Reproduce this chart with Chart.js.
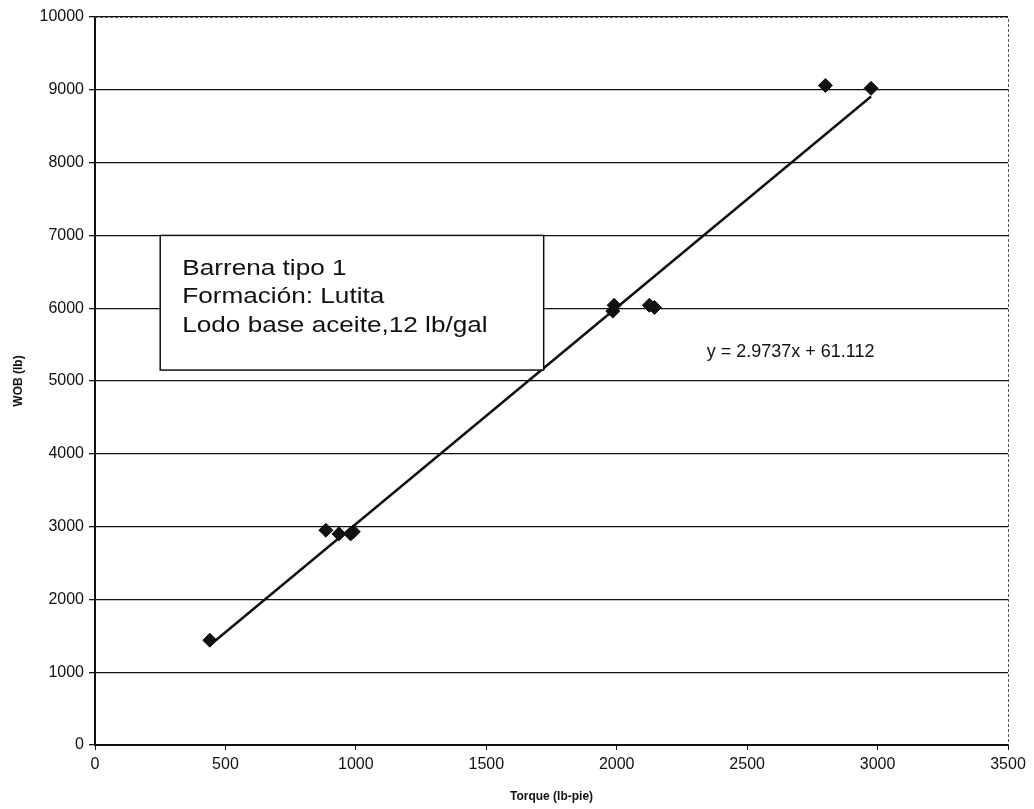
<!DOCTYPE html>
<html>
<head>
<meta charset="utf-8">
<script src="https://cdn.jsdelivr.net/npm/chart.js@4.4.1/dist/chart.umd.min.js"></script>
<style>
  html, body { margin: 0; padding: 0; background: #ffffff; }
  #wrap { width: 1034px; height: 809px; }
</style>
</head>
<body>
<div id="wrap"><canvas id="c" width="1034" height="809"></canvas></div>
<script>
// Measured torque (lb-pie) and weight on bit (lb)
const torque = [440, 885, 935, 980, 990, 1985, 1990, 2125, 2145, 2800, 2975];
const wob    = [1440, 2950, 2900, 2900, 2930, 5960, 6040, 6040, 6010, 9060, 9020];

// Linear fit reported on the chart: y = slope * x + intercept
const slope = 2.9737;
const intercept = 61.112;
const fitLabel = 'y = 2.9737x + 61.112';

// Note box text
const noteLines = ['Barrena tipo 1', 'Formación: Lutita', 'Lodo base aceite,12 lb/gal'];

const xTicks = [0, 500, 1000, 1500, 2000, 2500, 3000, 3500];
const yTicks = [0, 1000, 2000, 3000, 4000, 5000, 6000, 7000, 8000, 9000, 10000];

const points = torque.map((t, i) => ({ x: t, y: wob[i] }));
const xMin = Math.min(...torque), xMax = Math.max(...torque);
const fitPoints = [xMin, xMax].map(x => ({ x: x, y: slope * x + intercept }));

const FONT = '"Liberation Sans", Arial, sans-serif';

// Frame (dashed top/right edges), note box and fit equation
const annotations = {
  id: 'annotations',
  afterDatasetsDraw(chart) {
    const { ctx, chartArea: a, scales: { x, y } } = chart;
    ctx.save();
    // dotted top and right edge of plot
    ctx.strokeStyle = '#555';
    ctx.lineWidth = 1;
    ctx.setLineDash([3, 2]);
    ctx.beginPath();
    ctx.moveTo(a.left, a.top + 0.5);
    ctx.lineTo(a.right + 0.5, a.top + 0.5);
    ctx.lineTo(a.right + 0.5, a.bottom);
    ctx.stroke();
    ctx.setLineDash([]);

    // note box
    const bx0 = x.getPixelForValue(250), bx1 = x.getPixelForValue(1720);
    const by0 = y.getPixelForValue(7000), by1 = y.getPixelForValue(5150);
    ctx.fillStyle = '#ffffff';
    ctx.fillRect(bx0, by0, bx1 - bx0, by1 - by0);
    ctx.strokeStyle = '#111';
    ctx.lineWidth = 1.5;
    ctx.strokeRect(bx0, by0, bx1 - bx0, by1 - by0);
    ctx.fillStyle = '#111';
    ctx.font = '24px ' + FONT;
    ctx.textBaseline = 'middle';
    ctx.textAlign = 'left';
    noteLines.forEach((s, i) => {
      ctx.save();
      ctx.translate(bx0 + 22, by0 + 33 + i * 28.5);
      ctx.scale(1.09, 0.94);
      ctx.fillText(s, 0, 0);
      ctx.restore();
    });

    // fit equation
    ctx.font = '18px ' + FONT;
    ctx.fillText(fitLabel, x.getPixelForValue(2345), y.getPixelForValue(5400));
    ctx.restore();
  }
};

new Chart(document.getElementById('c'), {
  type: 'scatter',
  data: {
    datasets: [
      {
        label: 'Ajuste lineal',
        data: fitPoints,
        showLine: true,
        borderColor: '#111',
        borderWidth: 2.5,
        pointRadius: 0,
        fill: false,
        order: 2
      },
      {
        label: 'WOB',
        data: points,
        pointStyle: 'rectRot',
        pointRadius: 7,
        backgroundColor: '#111',
        borderColor: '#111',
        borderWidth: 1,
        order: 1
      }
    ]
  },
  options: {
    responsive: false,
    animation: false,
    events: [],
    layout: { padding: { top: 17, right: 26, left: 0, bottom: 0 } },
    plugins: { legend: { display: false }, tooltip: { enabled: false } },
    scales: {
      x: {
        type: 'linear',
        min: 0, max: 3500,
        afterBuildTicks(s) { s.ticks = xTicks.map(v => ({ value: v })); },
        afterFit(s) { s.height = 64; },
        border: { color: '#111', width: 2 },
        grid: { drawOnChartArea: false, drawTicks: true, tickLength: 5, color: '#111' },
        ticks: { color: '#111', font: { family: FONT, size: 16 }, padding: 5, maxRotation: 0, callback: v => String(v) },
        title: { display: true, text: 'Torque (lb-pie)', color: '#111', font: { family: FONT, size: 12, weight: 'bold' }, padding: { top: 6, bottom: 5 } }
      },
      y: {
        type: 'linear',
        min: 0, max: 10000,
        afterBuildTicks(s) { s.ticks = yTicks.map(v => ({ value: v })); },
        afterFit(s) { s.width = 95; },
        border: { color: '#111', width: 2 },
        grid: { color: '#111', lineWidth: 1.3, drawTicks: true, tickLength: 6 },
        ticks: { color: '#111', font: { family: FONT, size: 16 }, padding: 5, callback: v => String(v) },
        title: { display: true, text: 'WOB (lb)', color: '#111', font: { family: FONT, size: 12, weight: 'bold' }, padding: { top: 11, bottom: 0 } }
      }
    }
  },
  plugins: [annotations]
});
</script>
</body>
</html>
